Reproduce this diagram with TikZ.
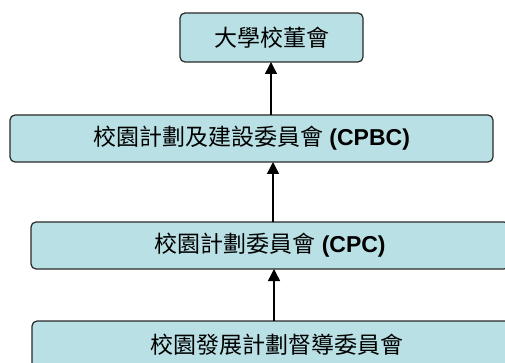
\documentclass[tikz,border=0pt]{standalone}
\usepackage{fontspec}
\setmainfont{Liberation Sans}
\newfontfamily\cjk{Noto Sans CJK TC}
\usetikzlibrary{arrows.meta}
\definecolor{boxfill}{RGB}{185,224,228}
\definecolor{boxline}{RGB}{40,40,40}
\tikzset{
  orgbox/.style={draw=boxline, line width=1.2pt, fill=boxfill, rounded corners=5pt,
    inner sep=0pt, outer sep=0pt, font=\fontsize{23}{26}\selectfont},
  uparrow/.style={draw=black, line width=1.4pt,
    -{Triangle[width=12pt,length=12pt]}}
}
\begin{document}
\begin{tikzpicture}[x=1pt,y=-1pt]
\useasboundingbox (0,0) rectangle (505,363);
\node[orgbox, minimum width=183pt, minimum height=49pt] (b1) at (271.5,37.5)
  {\raisebox{-2pt}{\cjk 大學校董會}};
\node[orgbox, minimum width=483pt, minimum height=47pt] (b2) at (251.5,138.5)
  {{\cjk 校園計劃及建設委員會} \textbf{(CPBC)}};
\node[orgbox, minimum width=478pt, minimum height=47pt] (b3) at (270,245.5)
  {{\cjk 校園計劃委員會} \textbf{(CPC)}};
\node[orgbox, minimum width=490pt, minimum height=47pt] (b4) at (277,344.5)
  {\cjk 校園發展計劃督導委員會};
\coordinate (c1) at (271,0);
\coordinate (c2) at (273,0);
\coordinate (c3) at (274,0);
\draw[uparrow] (b2.north -| c1) -- (b1.south -| c1);
\draw[uparrow] (b3.north -| c2) -- (b2.south -| c2);
\draw[uparrow] (b4.north -| c3) -- (b3.south -| c3);
\end{tikzpicture}
\end{document}
